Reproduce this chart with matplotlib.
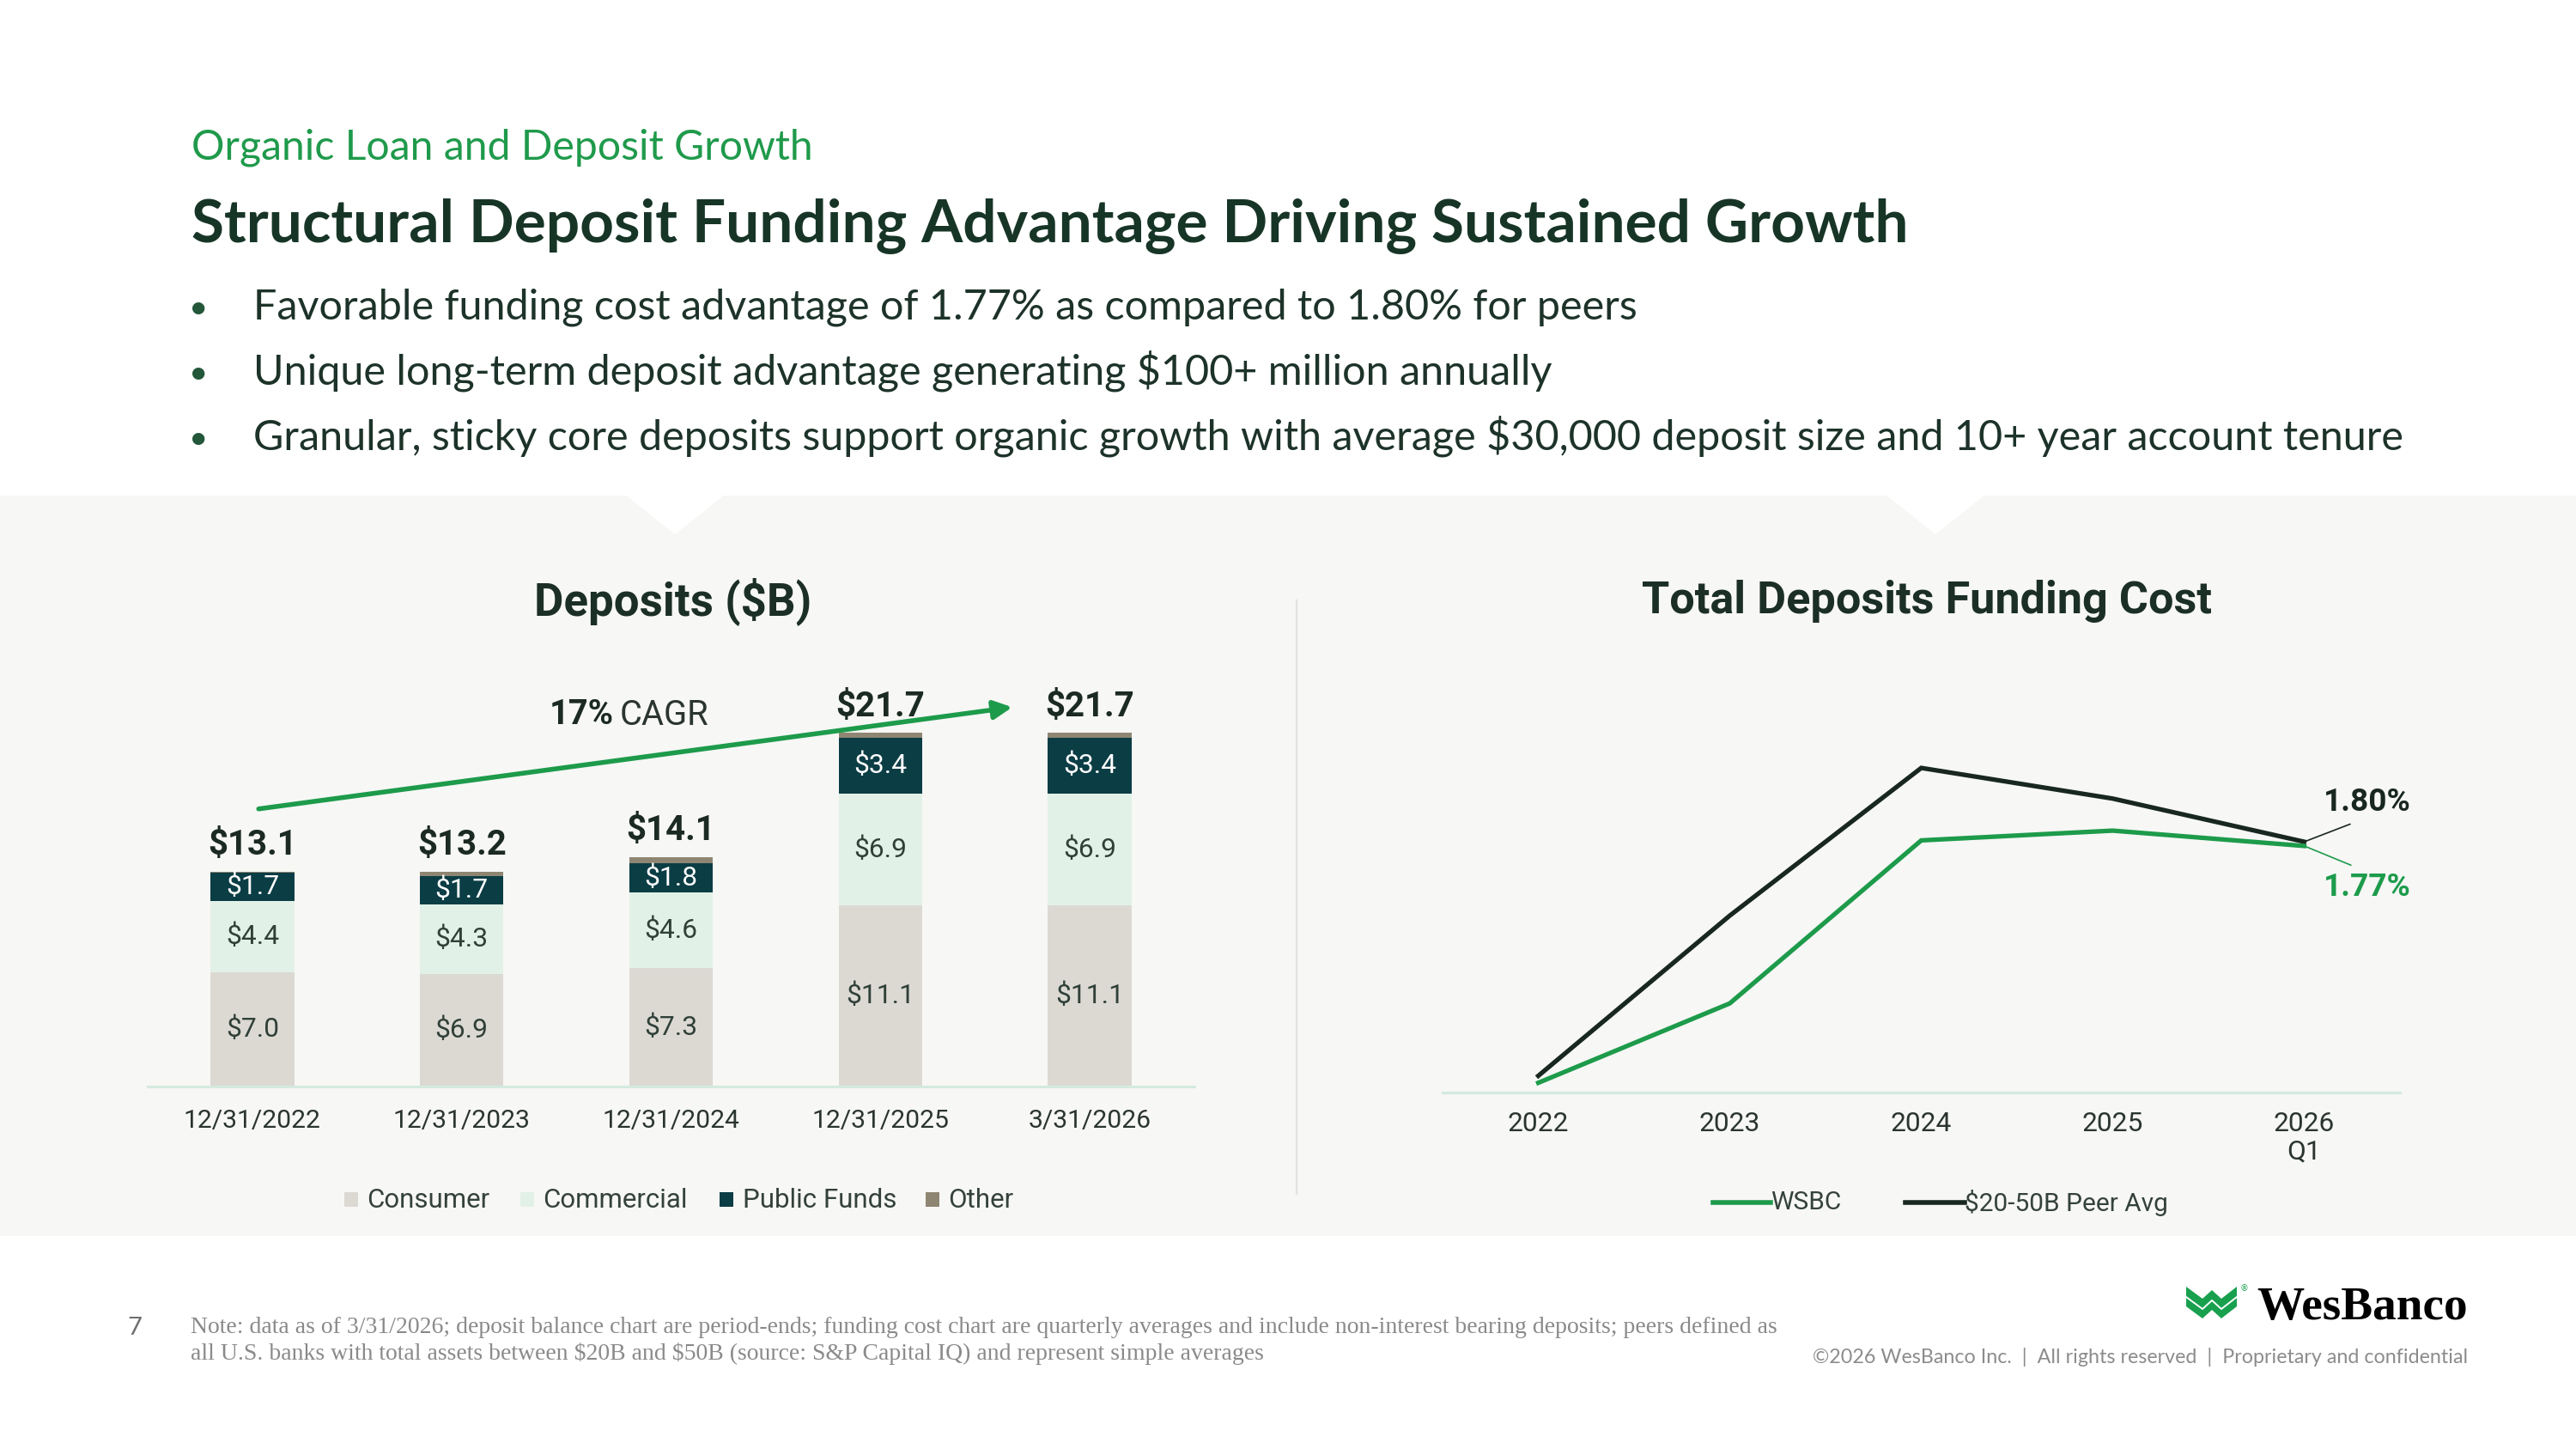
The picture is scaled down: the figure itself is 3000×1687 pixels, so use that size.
import matplotlib
matplotlib.use('Agg')
import matplotlib.pyplot as plt
from matplotlib.patches import Rectangle, Polygon
from matplotlib.lines import Line2D
import numpy as np

plt.rcParams['text.parse_math'] = False

# ---------------- data ----------------
dep_dates = ['12/31/2022', '12/31/2023', '12/31/2024', '12/31/2025', '3/31/2026']
consumer = [7.0, 6.9, 7.3, 11.1, 11.1]
commercial = [4.4, 4.3, 4.6, 6.9, 6.9]
public_funds = [1.7, 1.7, 1.8, 3.4, 3.4]
other = [0.1, 0.3, 0.4, 0.3, 0.3]
totals = [13.1, 13.2, 14.1, 21.7, 21.7]
dep_series = ['Consumer', 'Commercial', 'Public Funds', 'Other']
cagr_bold = '17%'
cagr_text = 'CAGR'

cost_periods = ['2022', '2023', '2024', '2025', '2026\nQ1']
wsbc_cost = [0.07, 0.64, 1.81, 1.88, 1.77]
peer_cost = [0.12, 1.27, 2.33, 2.11, 1.80]
cost_series = ['WSBC', '$20-50B Peer Avg']

subtitle = 'Organic Loan and Deposit Growth'
title = 'Structural Deposit Funding Advantage Driving Sustained Growth'
bullets = [
    'Favorable funding cost advantage of 1.77% as compared to 1.80% for peers',
    'Unique long-term deposit advantage generating $100+ million annually',
    'Granular, sticky core deposits support organic growth with average $30,000 deposit size and 10+ year account tenure',
]
note_lines = [
    'Note: data as of 3/31/2026; deposit balance chart are period-ends; funding cost chart are quarterly averages and include non-interest bearing deposits; peers defined as',
    'all U.S. banks with total assets between $20B and $50B (source: S&P Capital IQ) and represent simple averages',
]
copyright_txt = '\u00a92026 WesBanco Inc.  |  All rights reserved  |  Proprietary and confidential'

# ---------------- style ----------------
C_CONS = '#dcd9d3'
C_COMM = '#e2f1e7'
C_PUB = '#0b3d45'
C_OTH = '#8e8672'
GREEN = '#1d9b4b'
DARK = '#18271f'

W, H = 3000, 1687
DPI = 200
fig = plt.figure(figsize=(W / DPI, H / DPI), dpi=DPI)
fig.patch.set_facecolor('white')
R = fig.canvas.get_renderer()


def fx(x):
    return x / W


def fy(y):
    return 1 - y / H


def size_for(s, w, **kw):
    t = fig.text(0, 0, s, fontsize=10, **kw)
    bw = t.get_window_extent(R).width
    t.remove()
    return 10 * w / bw


# ---------------- background panel ----------------
fig.add_artist(Rectangle((0, fy(1439)), 1, (1439 - 577) / H, transform=fig.transFigure,
                         facecolor='#f7f7f5', edgecolor='none', zorder=-2))
for cx in (786, 2254):
    fig.add_artist(Polygon([(fx(cx - 58), fy(576)), (fx(cx + 58), fy(576)), (fx(cx), fy(622))],
                           closed=True, transform=fig.transFigure, facecolor='white',
                           edgecolor='none', zorder=-1))
fig.add_artist(Line2D([fx(1510), fx(1510)], [fy(699), fy(1390)], transform=fig.transFigure,
                      color='#e3e3e3', lw=0.8, zorder=-1))

# ---------------- header ----------------
fig.text(fx(223), fy(185), subtitle, color='#1f9a4b', family='Lato', va='baseline',
         fontsize=size_for(subtitle, 725, family='Lato'))
fig.text(fx(223), fy(282), title, color='#173527', family='Lato', weight='bold', va='baseline',
         fontsize=size_for(title, 1997, family='Lato', weight='bold'))
bsize = size_for(bullets[2], 2510, family='Lato')
for i, b in enumerate(bullets):
    yb = 372 + 76 * i
    fig.text(fx(231), fy(yb - 13), '\u2022', color='#23573a', family='Lato', fontsize=bsize * 0.8,
             ha='center', va='center')
    fig.text(fx(295), fy(yb), b, color='#1d3329', family='Lato', fontsize=bsize, va='baseline')

# ---------------- left chart: deposits ----------------
FONT = 'Roboto'
ax1 = fig.add_axes([fx(172), fy(1265), (1391 - 172) / W, (1265 - 760) / H])
ax1.set_facecolor('none')
x = np.arange(len(dep_dates))
bw = 0.40
b0 = np.zeros(len(x))
seg_vals = [consumer, commercial, public_funds, other]
seg_cols = [C_CONS, C_COMM, C_PUB, C_OTH]
seg_bottoms = []
for vals, col in zip(seg_vals, seg_cols):
    ax1.bar(x, vals, bw, bottom=b0, color=col, edgecolor='none', zorder=2)
    seg_bottoms.append(b0.copy())
    b0 = b0 + np.array(vals)
ax1.set_xlim(-0.5, 4.5)
ax1.set_ylim(0, (1265 - 760) / 18.97)

seg_fs = size_for('$11.1', 80, family=FONT)
for k in range(3):
    vals = seg_vals[k]
    for i in range(len(x)):
        col = 'white' if k == 2 else '#2f4038'
        ax1.text(x[i], seg_bottoms[k][i] + vals[i] / 2, f'${vals[i]:.1f}', ha='center',
                 va='center', color=col, fontsize=seg_fs, family=FONT, zorder=3)

tot_fs = size_for('$13.1', 104, family=FONT, weight='bold')
for i in range(len(x)):
    ax1.annotate(f'${totals[i]:.1f}', xy=(x[i], b0[i]), xytext=(0, 4), textcoords='offset points',
                 ha='center', va='bottom', fontsize=tot_fs, weight='bold', family=FONT,
                 color='#1b2a22', zorder=3)

# CAGR arrow
ax1.annotate('', xy=(3.63, 23.28), xytext=(0.03, 17.04),
             arrowprops=dict(arrowstyle='-|>', color=GREEN, lw=2.0, mutation_scale=16,
                             shrinkA=0, shrinkB=0), zorder=4)
cg_fs = size_for(cagr_bold + ' ' + cagr_text, 180, family=FONT, weight='bold') * 1.06
t1 = fig.text(fx(640), fy(832), cagr_bold, weight='bold', family=FONT, fontsize=cg_fs,
              color='#1b2a22', va='center')
w1 = t1.get_window_extent(R).width
fig.text(fx(640 + w1 + 6), fy(832), cagr_text, family=FONT, fontsize=cg_fs, color='#2b3530',
         va='center')

for s in ['top', 'right', 'left']:
    ax1.spines[s].set_visible(False)
ax1.spines['bottom'].set_color('#d4ebde')
ax1.spines['bottom'].set_linewidth(1.1)
ax1.set_yticks([])
ax1.set_xticks(x)
tick_fs = size_for('12/31/2022', 160, family=FONT)
ax1.set_xticklabels(dep_dates, fontsize=tick_fs, family=FONT, color='#2b3530')
ax1.tick_params(axis='x', length=0, pad=9.5)

fig.text(fx(784), fy(700), 'Deposits ($B)', ha='center', va='center', weight='bold', family=FONT,
         color='#1b2f26', fontsize=size_for('Deposits ($B)', 322, family=FONT, weight='bold'))

# left legend
lg_fs = size_for('Consumer', 143, family=FONT)
sq_x = [401, 606, 838, 1078]
lb_x = [427, 632, 865, 1104]
for name, col, sx, lx in zip(dep_series, seg_cols, sq_x, lb_x):
    fig.add_artist(Rectangle((fx(sx), fy(1405)), 16 / W, 17 / H, transform=fig.transFigure,
                             facecolor=col, edgecolor='none'))
    fig.text(fx(lx), fy(1397), name, family=FONT, fontsize=lg_fs, color='#34423b', va='center')

# ---------------- right chart: funding cost ----------------
ax2 = fig.add_axes([fx(1680), fy(1272), (2795 - 1680) / W, (1272 - 760) / H])
ax2.set_facecolor('none')
xc = np.arange(len(cost_periods))
ax2.plot(xc, peer_cost, color=DARK, lw=1.9, solid_joinstyle='miter', zorder=3)
ax2.plot(xc, wsbc_cost, color=GREEN, lw=1.9, solid_joinstyle='miter', zorder=4)
ax2.set_xlim(-0.5, 4.5)
ax2.set_ylim(0, 512 / 162.2)
lab_fs = size_for('1.80%', 102, family=FONT, weight='bold')
ax2.annotate(f'{peer_cost[-1]:.2f}%', xy=(xc[-1], peer_cost[-1]), xytext=(26.3, 16.6),
             textcoords='offset points', ha='center', va='center', weight='bold', family=FONT,
             fontsize=lab_fs, color=DARK,
             arrowprops=dict(arrowstyle='-', color=DARK, lw=0.6, shrinkA=2, shrinkB=0,
                             relpos=(0.5, 0.0)))
ax2.annotate(f'{wsbc_cost[-1]:.2f}%', xy=(xc[-1], wsbc_cost[-1]), xytext=(26.3, -17.3),
             textcoords='offset points', ha='center', va='center', weight='bold', family=FONT,
             fontsize=lab_fs, color=GREEN,
             arrowprops=dict(arrowstyle='-', color=GREEN, lw=0.6, shrinkA=2, shrinkB=0,
                             relpos=(0.5, 1.0)))
for s in ['top', 'right', 'left']:
    ax2.spines[s].set_visible(False)
ax2.spines['bottom'].set_color('#d4ebde')
ax2.spines['bottom'].set_linewidth(1.1)
ax2.set_yticks([])
ax2.set_xticks(xc)
ax2.set_xticklabels(cost_periods, fontsize=size_for('2022', 71, family=FONT), family=FONT,
                    color='#2b3530', linespacing=1.15)
ax2.tick_params(axis='x', length=0, pad=8)

fig.text(fx(2244), fy(700), 'Total Deposits Funding Cost', ha='center', va='center',
         weight='bold', family=FONT, color='#1b2f26',
         fontsize=size_for('Total Deposits Funding Cost', 664, family=FONT, weight='bold'))

# right legend
for col, l0, l1 in zip([GREEN, DARK], [1995, 2219], [2062, 2288]):
    fig.add_artist(Line2D([fx(l0), fx(l1)], [fy(1400), fy(1400)], transform=fig.transFigure,
                          color=col, lw=2.0))
fs_leg2 = size_for(cost_series[1], 237, family=FONT)
fig.text(fx(2062), fy(1400), cost_series[0], family=FONT, fontsize=fs_leg2, color='#34423b',
         va='center')
fig.text(fx(2288), fy(1400), cost_series[1], family=FONT, fontsize=fs_leg2, color='#34423b',
         va='center')

# ---------------- footer ----------------
nfs = size_for(note_lines[0], 1846, family='Liberation Serif')
fig.text(fx(157), fy(1546), '7', ha='center', va='center', family='Lato', fontsize=nfs * 1.05,
         color='#6f6f6f')
fig.text(fx(222), fy(1545), note_lines[0], va='center', family='Liberation Serif', fontsize=nfs,
         color='#8a8a8a')
fig.text(fx(222), fy(1576), note_lines[1], va='center', family='Liberation Serif', fontsize=nfs,
         color='#8a8a8a')

# logo
band_top = [(2546, 1498), (2565, 1512), (2576, 1502), (2587, 1512), (2605, 1498)]
band_bot = [(2605, 1521), (2587, 1535), (2576, 1525), (2565, 1535), (2546, 1521)]
fig.add_artist(Polygon([(fx(a), fy(b)) for a, b in band_top + band_bot], closed=True,
                       transform=fig.transFigure, facecolor='#18a04e', edgecolor='none'))
mid = [(2546, 1510), (2565, 1524), (2576, 1514), (2587, 1524), (2605, 1510)]
fig.add_artist(Line2D([fx(a) for a, b in mid], [fy(b) for a, b in mid], transform=fig.transFigure,
                      color='white', lw=0.7))
fig.text(fx(2614), fy(1500), '\u00ae', family='DejaVu Sans', fontsize=3.5, color='#18a04e',
         ha='center', va='center')
fig.text(fx(2874), fy(1536), 'WesBanco', family='Liberation Serif', weight='bold', color='black',
         va='baseline', ha='right',
         fontsize=size_for('WesBanco', 245, family='Liberation Serif', weight='bold'))
fig.text(fx(2874), fy(1580), copyright_txt, family='Lato', color='#8c8c8c', ha='right', va='center',
         fontsize=size_for(copyright_txt, 764, family='Lato'))

fig.savefig('out.png', dpi=DPI, facecolor='white')
